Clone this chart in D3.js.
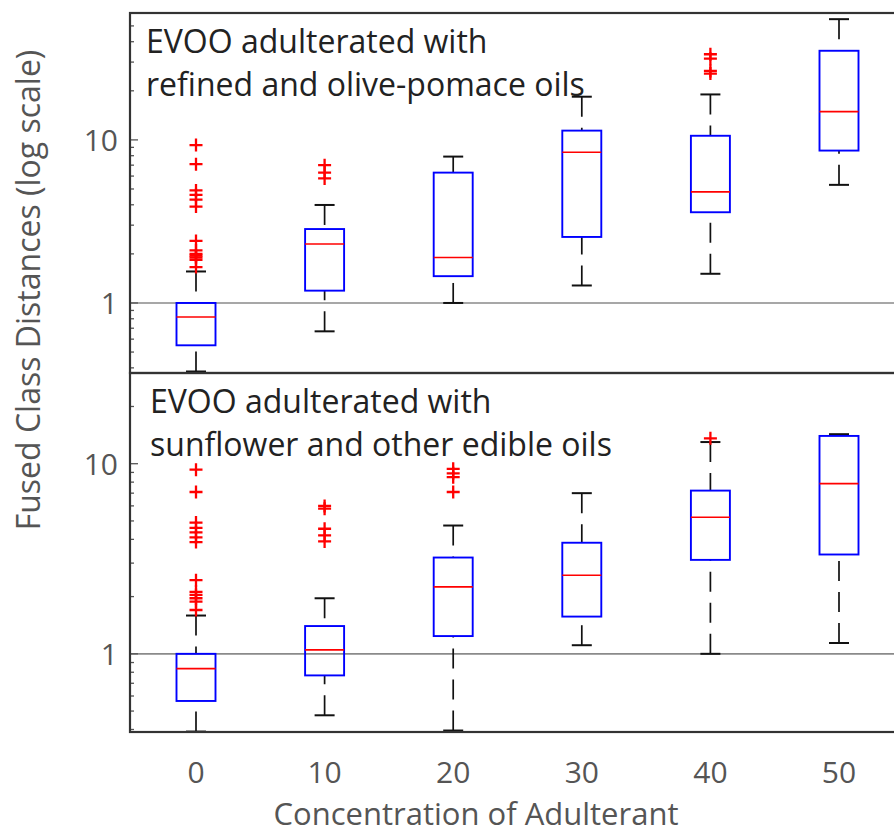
<!DOCTYPE html>
<html>
<head>
<meta charset="utf-8">
<script src="https://cdn.jsdelivr.net/npm/d3@7"></script>
<style>
  body { margin: 0; background: #fff; }
  svg { display: block; font-family: "Open Sans", sans-serif; }
</style>
</head>
<body>
<script>
// Concentration of adulterant (%)
var concentrations = [0, 10, 20, 30, 40, 50];

// Top panel: refined and olive-pomace oils
var refinedLow     = [0.38, 0.67, 1.0, 1.28, 1.51, 5.3];
var refinedQ1      = [0.55, 1.19, 1.46, 2.54, 3.6, 8.6];
var refinedMedian  = [0.82, 2.30, 1.90, 8.4, 4.8, 14.9];
var refinedQ3      = [1.0, 2.84, 6.3, 11.4, 10.6, 35.2];
var refinedHigh    = [1.56, 3.99, 7.9, 18.4, 19.0, 55];
var refinedOutliers = [
  [9.3, 7.1, 4.9, 4.6, 4.3, 3.9, 2.4, 2.1, 2.0, 1.95, 1.9, 1.84, 1.66],
  [7.0, 6.3, 5.8],
  [],
  [],
  [33.5, 31.5, 26.5, 25.5],
  []
];

// Bottom panel: sunflower and other edible oils
var sunflowerLow     = [0.39, 0.475, 0.395, 1.11, 1.0, 1.14];
var sunflowerQ1      = [0.565, 0.77, 1.24, 1.57, 3.12, 3.33];
var sunflowerMedian  = [0.835, 1.05, 2.25, 2.59, 5.23, 7.86];
var sunflowerQ3      = [1.0, 1.40, 3.21, 3.84, 7.22, 14.0];
var sunflowerHigh    = [1.59, 1.96, 4.73, 7.0, 13.0, 14.3];
var sunflowerOutliers = [
  [9.3, 7.1, 4.9, 4.6, 4.35, 4.1, 3.87, 2.44, 2.12, 2.04, 1.96, 1.88, 1.7],
  [6.0, 5.8, 4.55, 4.2, 3.9],
  [9.4, 8.9, 8.5, 7.1],
  [],
  [13.6],
  []
];

var tickLabels = ["0", "10", "20", "30", "40", "50"];

var width = 894, height = 834;
var left = 130, right = 896;

var svg = d3.select("body").append("svg")
    .attr("width", width)
    .attr("height", height);

// shared x scale
var x = d3.scaleLinear().domain([0, 50]).range([196, 839]);

var panels = [
  {
    y: d3.scaleLog().domain([0.372, 60]).range([373, 13]),
    low: refinedLow, q1: refinedQ1, med: refinedMedian, q3: refinedQ3, high: refinedHigh,
    out: refinedOutliers,
    label: ["EVOO adulterated with", "refined and olive-pomace oils"],
    labelX: 146, labelY: 53
  },
  {
    y: d3.scaleLog().domain([0.388, 30]).range([732, 373]),
    low: sunflowerLow, q1: sunflowerQ1, med: sunflowerMedian, q3: sunflowerQ3, high: sunflowerHigh,
    out: sunflowerOutliers,
    label: ["EVOO adulterated with", "sunflower and other edible oils"],
    labelX: 150, labelY: 413
  }
];

var boxW = 39, capW = 20;

panels.forEach(function(p) {
  var y = p.y;
  var top = y.range()[1], bottom = y.range()[0];
  var g = svg.append("g");

  // reference line at distance 1
  g.append("line")
    .attr("x1", left).attr("x2", right)
    .attr("y1", y(1)).attr("y2", y(1))
    .attr("stroke", "#8a8a8a").attr("stroke-width", 1.6);

  // y ticks (inward)
  var ticks = y.ticks();
  g.selectAll(".tick").data(ticks).enter().append("line")
    .attr("x1", left)
    .attr("x2", function(d) { return left + (Math.abs(Math.log10(d) % 1) < 1e-9 ? 8 : 4); })
    .attr("y1", function(d) { return y(d); })
    .attr("y2", function(d) { return y(d); })
    .attr("stroke", "#555").attr("stroke-width", 1.3);

  g.selectAll(".tlab").data([1, 10]).enter().append("text")
    .attr("x", 118)
    .attr("y", function(d) { return y(d); })
    .attr("dy", "0.36em")
    .attr("text-anchor", "end")
    .attr("fill", "#555")
    .attr("font-size", 30)
    .text(function(d) { return d; });

  concentrations.forEach(function(c, i) {
    var cx = x(c);
    // whiskers (dashed)
    g.append("line")
      .attr("x1", cx).attr("x2", cx)
      .attr("y1", y(p.high[i])).attr("y2", y(p.q3[i]))
      .attr("stroke", "#111").attr("stroke-width", 1.7)
      .attr("stroke-dasharray", "20,11");
    g.append("line")
      .attr("x1", cx).attr("x2", cx)
      .attr("y1", y(p.low[i])).attr("y2", y(p.q1[i]))
      .attr("stroke", "#111").attr("stroke-width", 1.7)
      .attr("stroke-dasharray", "20,11");
    [p.high[i], p.low[i]].forEach(function(v) {
      g.append("line")
        .attr("x1", cx - capW / 2).attr("x2", cx + capW / 2)
        .attr("y1", y(v)).attr("y2", y(v))
        .attr("stroke", "#111").attr("stroke-width", 2);
    });
    // box
    g.append("rect")
      .attr("x", cx - boxW / 2)
      .attr("y", y(p.q3[i]))
      .attr("width", boxW)
      .attr("height", y(p.q1[i]) - y(p.q3[i]))
      .attr("fill", "none")
      .attr("stroke", "#0000ff").attr("stroke-width", 1.9);
    // median
    g.append("line")
      .attr("x1", cx - boxW / 2).attr("x2", cx + boxW / 2)
      .attr("y1", y(p.med[i])).attr("y2", y(p.med[i]))
      .attr("stroke", "#ff0000").attr("stroke-width", 1.7);
    // outliers
    p.out[i].forEach(function(v) {
      var oy = y(v);
      g.append("path")
        .attr("d", "M" + (cx - 6.5) + "," + oy + "H" + (cx + 6.5) + "M" + cx + "," + (oy - 6.5) + "V" + (oy + 6.5))
        .attr("stroke", "#ff0000").attr("stroke-width", 2.3).attr("fill", "none");
    });
  });

  // frame
  g.append("rect")
    .attr("x", left).attr("y", top)
    .attr("width", right - left).attr("height", bottom - top)
    .attr("fill", "none").attr("stroke", "#333").attr("stroke-width", 2.2);

  // panel annotation
  g.selectAll(".ann").data(p.label).enter().append("text")
    .attr("x", p.labelX)
    .attr("y", function(d, k) { return p.labelY + k * 43; })
    .attr("fill", "#222")
    .attr("font-size", 32)
    .text(function(d) { return d; });
});

// x tick labels
svg.selectAll(".xlab").data(concentrations).enter().append("text")
  .attr("x", function(d) { return x(d); })
  .attr("y", 783)
  .attr("text-anchor", "middle")
  .attr("fill", "#555")
  .attr("font-size", 30)
  .text(function(d, i) { return tickLabels[i]; });

// axis titles
svg.append("text")
  .attr("x", 476).attr("y", 825)
  .attr("text-anchor", "middle")
  .attr("fill", "#555")
  .attr("font-size", 31)
  .text("Concentration of Adulterant");

svg.append("text")
  .attr("transform", "translate(40,290) rotate(-90)")
  .attr("text-anchor", "middle")
  .attr("fill", "#555")
  .attr("font-size", 32)
  .text("Fused Class Distances (log scale)");
</script>
</body>
</html>
